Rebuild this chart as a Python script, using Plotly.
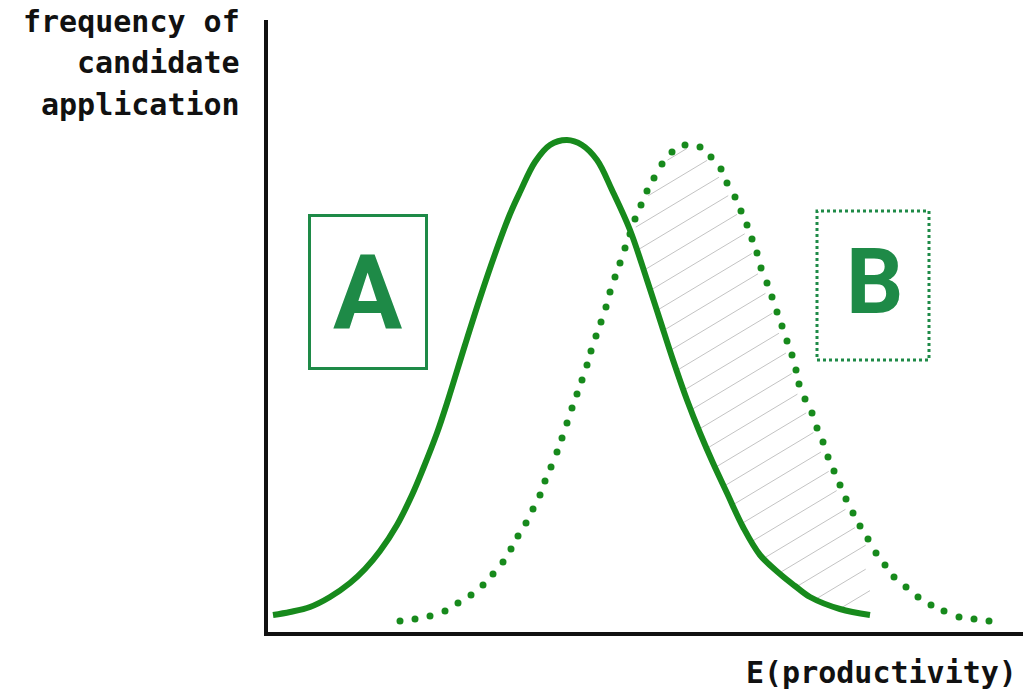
import numpy as np
import plotly.graph_objects as go

# ---- data (x: productivity, y: frequency; arbitrary units) ----
solid_x = [7, 24, 44, 64, 84, 99, 114, 131, 146, 157, 171, 182, 199, 214, 229, 244, 254, 269, 284, 301,
           316, 331, 346, 364, 381, 394, 407, 421, 434, 447, 461, 477, 494, 514, 529, 544, 574, 604]
solid_y = [18, 21, 26, 36, 50, 64, 82, 108, 138, 164, 200, 233, 288, 335, 379, 419, 441, 471, 488, 493,
           488, 473, 443, 403, 353, 313, 273, 233, 200, 170, 140, 106, 78, 59, 47, 36, 24, 18]

dotted_x = [134, 149, 164, 179, 192, 205, 217, 227, 237, 245, 252, 260, 267, 274, 279, 285, 291, 296, 301, 306,
            311, 316, 321, 325, 330, 335, 340, 344, 349, 354, 359, 364, 369, 375, 381, 388, 396, 406, 419, 434,
            445, 455, 461, 469, 475, 481, 486, 491, 495, 501, 506, 511, 516, 521, 526, 530, 533, 539, 546, 551,
            557, 562, 568, 574, 580, 587, 594, 602, 610, 619, 628, 640, 652, 665, 678, 693, 708, 723]
dotted_y = [12, 14, 17, 22, 30, 38, 48, 59, 71, 84, 97, 110, 124, 138, 152, 166, 181, 195, 210, 225,
            239, 253, 268, 282, 297, 311, 326, 341, 356, 370, 385, 399, 414, 428, 442, 455, 469, 481, 488, 486,
            476, 464, 450, 436, 422, 408, 394, 380, 365, 350, 336, 321, 307, 292, 278, 263, 249, 234, 220, 205,
            191, 176, 162, 148, 134, 120, 107, 94, 80, 68, 56, 46, 36, 28, 22, 16, 14, 12]

label_a = "A"
label_b = "B"
y_title_lines = ["frequency of", "candidate", "application"]
x_title = "E(productivity)"

CURVE_GREEN = "#178a1c"
LABEL_GREEN = "#1e8a47"
HATCH_GRAY = "#c4c4c4"

# ---- hatch lines between the two curves (right of their crossing) ----
sx = np.array(solid_x, float); sy = np.array(solid_y, float)
dx = np.array(dotted_x, float); dy = np.array(dotted_y, float)
xg = np.arange(0, 760, 0.25)
sol = np.interp(xg, sx, sy, left=np.nan, right=np.nan)
dot = np.interp(xg, dx, dy, left=np.nan, right=np.nan)
peak_x = sx[np.argmax(sy)]
cand = np.where((xg > peak_x) & (dot > sol))[0]
x_int = xg[cand[0]]

slope = 0.6
spacing = 24.0
c_top = 208.0
hx, hy = [], []
trim = 5.0
tdx = trim / np.sqrt(1 + slope ** 2)
for k in range(-2, 30):
    c = c_top - spacing * k
    yl = c + slope * xg
    inside = (xg >= x_int) & (yl > sol) & (yl < dot)
    if not inside.any():
        continue
    idx = np.where(inside)[0]
    breaks = np.where(np.diff(idx) > 1)[0]
    starts = np.r_[idx[0], idx[breaks + 1]]
    ends = np.r_[idx[breaks], idx[-1]]
    for s0, e0 in zip(starts, ends):
        x0, x1 = xg[s0], xg[e0]
        y0, y1 = c + slope * x0, c + slope * x1
        if abs(y0 - dot[s0]) < abs(y0 - sol[s0]):
            x0 += tdx
        if abs(y1 - dot[e0]) < abs(y1 - sol[e0]):
            x1 -= tdx
        if x1 - x0 < 4:
            continue
        hx += [x0, x1, None]
        hy += [c + slope * x0, c + slope * x1, None]

fig = go.Figure()
fig.add_trace(go.Scatter(x=hx, y=hy, mode="lines", line=dict(color=HATCH_GRAY, width=1),
                         hoverinfo="skip", showlegend=False))
fig.add_trace(go.Scatter(x=solid_x, y=solid_y, mode="lines",
                         line=dict(color=CURVE_GREEN, width=6, shape="spline"),
                         showlegend=False))
fig.add_trace(go.Scatter(x=dotted_x, y=dotted_y, mode="markers",
                         marker=dict(color=CURVE_GREEN, size=7),
                         showlegend=False))

# boxes
fig.add_shape(type="rect", x0=43.5, x1=160.5, y0=264.5, y1=417.5, xref="x", yref="y",
              line=dict(color=LABEL_GREEN, width=3))
fig.add_shape(type="rect", x0=551, x1=663, y0=273, y1=422, xref="x", yref="y",
              line=dict(color=LABEL_GREEN, width=3, dash="dot"))

fig.add_annotation(x=101, y=340, xref="x", yref="y", text=label_a, showarrow=False,
                   font=dict(family="Roboto", size=103, color=LABEL_GREEN, weight="bold"),
                   xanchor="center", yanchor="middle")
fig.add_annotation(x=608, y=351, xref="x", yref="y", text=label_b, showarrow=False,
                   font=dict(family="Roboto", size=90, color=LABEL_GREEN, weight="bold"),
                   xanchor="center", yanchor="middle")

title_font = dict(family="DejaVu Sans Mono", size=30, color="#111111", weight="bold")
for line, yp in zip(y_title_lines, [1.0294, 0.9624, 0.8938]):
    fig.add_annotation(x=-0.035, y=yp, xref="paper", yref="paper", text=line, showarrow=False,
                       font=title_font, xanchor="right", yanchor="top", align="right")
fig.add_annotation(x=0.630, y=-0.035, xref="paper", yref="paper", text=x_title, showarrow=False,
                   font=title_font, xanchor="left", yanchor="top", align="left")

fig.update_layout(
    width=1023, height=698,
    margin=dict(l=268, r=0, t=20, b=66),
    plot_bgcolor="white", paper_bgcolor="white",
    showlegend=False, hovermode=False,
    xaxis=dict(range=[2, 757], showline=True, linewidth=4, linecolor="#111111",
               showgrid=False, zeroline=False, showticklabels=False, ticks=""),
    yaxis=dict(range=[1, 613], showline=True, linewidth=4, linecolor="#111111",
               showgrid=False, zeroline=False, showticklabels=False, ticks=""),
)

fig.write_html("out.html", config={"displayModeBar": False, "staticPlot": True},
               post_script="document.body.style.margin='0';")
